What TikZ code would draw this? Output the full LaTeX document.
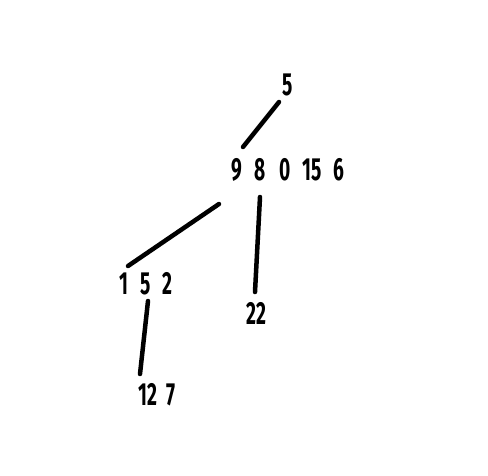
\documentclass[tikz,border=0pt]{standalone}
\usepackage{fontspec}
\newfontfamily\dig{Fira Sans}[FakeStretch=0.6, UprightFont=* Bold]
\begin{document}
\begin{tikzpicture}[x=1pt,y=-1pt,
  lbl/.style={anchor=west,inner sep=0pt,font=\dig\fontsize{32}{33}\selectfont},
  edge/.style={line width=4.5pt,line cap=round}]
\useasboundingbox (0,0) rectangle (488,475);
\node[lbl] (r) at (282,85) {5};
\node[lbl] (a) at (231,170) {9\hspace{13pt}8\hspace{13pt}0\hspace{12pt}15\hspace{12pt}6};
\node[lbl] (b) at (119,284) {1\hspace{12pt}5\hspace{12pt}2};
\node[lbl] (c) at (246,313) {22};
\node[lbl] (d) at (138,395) {12\hspace{9pt}7};
\coordinate (ra) at (279,102);
\coordinate (ar) at (243,147);
\coordinate (ab) at (219,204);
\coordinate (ba) at (128,266);
\coordinate (ac) at (260,197);
\coordinate (ca) at (255,292);
\coordinate (bd) at (148,301);
\coordinate (db) at (140,374);
\draw[edge] (ra) -- (ar);
\draw[edge] (ab) -- (ba);
\draw[edge] (ac) -- (ca);
\draw[edge] (bd) -- (db);
\end{tikzpicture}
\end{document}
